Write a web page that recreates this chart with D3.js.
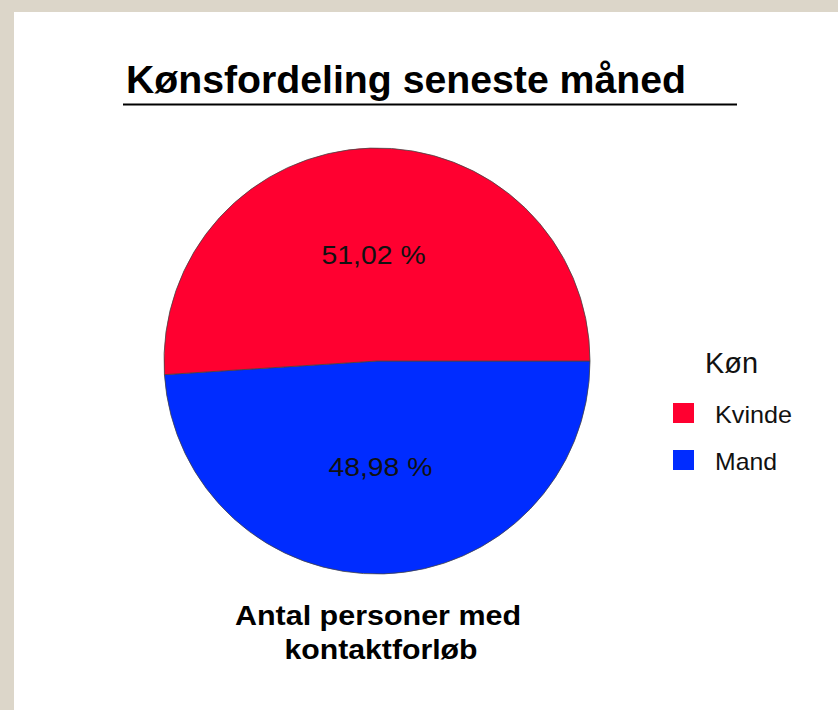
<!DOCTYPE html>
<html>
<head>
<meta charset="utf-8">
<script src="https://cdn.jsdelivr.net/npm/d3@7"></script>
<style>
  body { margin: 0; background: #dcd6c9; }
  svg { display: block; }
</style>
</head>
<body>
<div id="chart"></div>
<script>
const categories = ["Kvinde", "Mand"];
const values = [51.02, 48.98];
const labels = ["51,02 %", "48,98 %"];
const colors = ["#ff0030", "#002cff"];

const width = 838, height = 710;
const cx = 377, cy = 361, radius = 213;

const svg = d3.select("#chart")
    .append("svg")
    .attr("width", width)
    .attr("height", height)
    .style("font-family", "'Liberation Sans', Arial, sans-serif");

svg.append("rect")
    .attr("x", 14)
    .attr("y", 12)
    .attr("width", width - 14)
    .attr("height", height - 12)
    .attr("fill", "#ffffff");

// titel
svg.append("text")
    .attr("x", 126)
    .attr("y", 93)
    .attr("font-size", 38)
    .attr("font-weight", "bold")
    .attr("fill", "#000")
    .attr("textLength", 560)
    .attr("lengthAdjust", "spacingAndGlyphs")
    .text("Kønsfordeling seneste måned");

svg.append("line")
    .attr("x1", 123).attr("x2", 737)
    .attr("y1", 104.5).attr("y2", 104.5)
    .attr("stroke", "#000")
    .attr("stroke-width", 2);

const data = categories.map((c, i) => ({ cat: c, value: values[i], label: labels[i], color: colors[i] }));

// Mand tegnes først med uret fra kl. 3, Kvinde resten
const pie = d3.pie()
    .sort(null)
    .value(d => d.value)
    .startAngle(Math.PI / 2)
    .endAngle(Math.PI / 2 + 2 * Math.PI);

const arcs = pie([data[1], data[0]]);

const arc = d3.arc().innerRadius(0).outerRadius(radius);
const labelArc = d3.arc().innerRadius(radius * 0.5).outerRadius(radius * 0.5);

const g = svg.append("g").attr("transform", `translate(${cx},${cy})`);

g.selectAll("path")
    .data(arcs)
    .enter().append("path")
    .attr("d", arc)
    .attr("fill", d => d.data.color)
    .attr("stroke", "#444")
    .attr("stroke-width", 0.8);

g.selectAll("text.pct")
    .data(arcs)
    .enter().append("text")
    .attr("class", "pct")
    .attr("x", d => labelArc.centroid(d)[0])
    .attr("y", d => labelArc.centroid(d)[1] + 9)
    .attr("text-anchor", "middle")
    .attr("font-size", 26)
    .attr("fill", "#111")
    .attr("textLength", 104)
    .attr("lengthAdjust", "spacingAndGlyphs")
    .text(d => d.data.label);

// akse-titel under lagkagen
const sub = svg.append("text")
    .attr("text-anchor", "middle")
    .attr("font-size", 28)
    .attr("font-weight", "bold")
    .attr("fill", "#000");
sub.append("tspan").attr("x", 378).attr("y", 625)
    .attr("textLength", 286).attr("lengthAdjust", "spacingAndGlyphs")
    .text("Antal personer med");
sub.append("tspan").attr("x", 381).attr("y", 659)
    .attr("textLength", 193).attr("lengthAdjust", "spacingAndGlyphs")
    .text("kontaktforløb");

// forklaring
const legend = svg.append("g");
legend.append("text")
    .attr("x", 705)
    .attr("y", 373)
    .attr("font-size", 29)
    .attr("fill", "#111")
    .attr("textLength", 53)
    .attr("lengthAdjust", "spacingAndGlyphs")
    .text("Køn");

const item = legend.selectAll("g.item")
    .data(data)
    .enter().append("g")
    .attr("class", "item")
    .attr("transform", (d, i) => `translate(673,${403 + i * 47})`);

item.append("rect")
    .attr("width", 21)
    .attr("height", 20)
    .attr("fill", d => d.color);

item.append("text")
    .attr("x", 42)
    .attr("y", 20)
    .attr("font-size", 24)
    .attr("fill", "#111")
    .attr("textLength", d => d.cat === "Kvinde" ? 77 : 62)
    .attr("lengthAdjust", "spacingAndGlyphs")
    .text(d => d.cat);
</script>
</body>
</html>
